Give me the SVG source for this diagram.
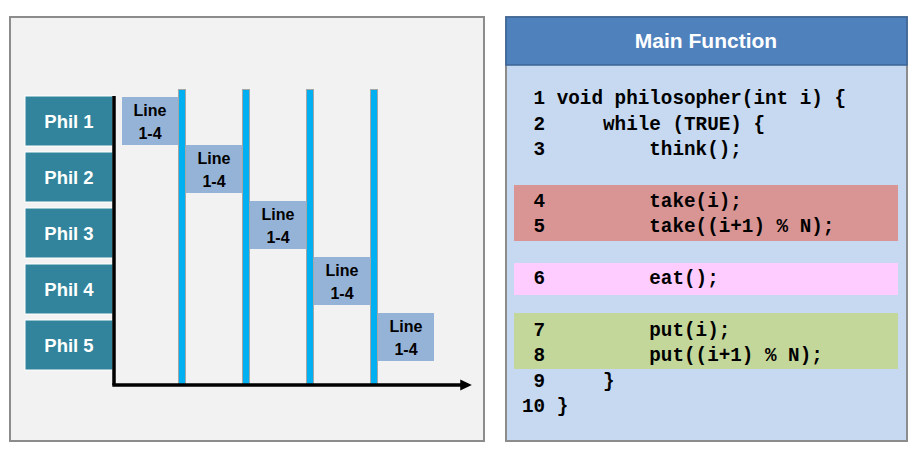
<svg xmlns="http://www.w3.org/2000/svg" width="915" height="460" viewBox="0 0 915 460">
<style>
.panel{fill:#f2f2f2;stroke:#8c8c8c;stroke-width:2}
.phil{fill:#31849b;stroke:#ffffff;stroke-width:1}
.philt{font-family:"Liberation Sans",Arial,sans-serif;font-weight:bold;font-size:18.5px;fill:#ffffff;text-anchor:middle}
.bar{fill:#00b0f0;stroke:#a6a6a6;stroke-width:1}
.lbox{fill:#95b3d7}
.lt{font-family:"Liberation Sans",Arial,sans-serif;font-weight:bold;font-size:16px;fill:#000000;text-anchor:middle}
.code{font-family:"Liberation Mono","Courier New",monospace;font-weight:bold;font-size:19.3px;fill:#000000;white-space:pre}
.title{font-family:"Liberation Sans",Arial,sans-serif;font-weight:bold;font-size:21px;fill:#ffffff;text-anchor:middle}
.axis{stroke:#000000;stroke-width:3.5;fill:none}
</style>
<defs>
<marker id="arr" markerWidth="4" markerHeight="4" refX="0.5" refY="2" orient="auto" markerUnits="strokeWidth">
<path d="M0,0.4 L3.3,2 L0,3.6 Z" fill="#000000"/>
</marker>
</defs>
<rect x="0" y="0" width="915" height="460" fill="#ffffff"/>
<g id="timeline-panel">
<rect class="panel" x="10" y="17" width="474" height="424"/>
</g>
<g id="phil1"><rect class="phil" x="25" y="96" width="88" height="50"/><text class="philt" x="69" y="128">Phil 1</text></g>
<g id="phil2"><rect class="phil" x="25" y="152" width="88" height="50"/><text class="philt" x="69" y="184">Phil 2</text></g>
<g id="phil3"><rect class="phil" x="25" y="208" width="88" height="50"/><text class="philt" x="69" y="240">Phil 3</text></g>
<g id="phil4"><rect class="phil" x="25" y="264" width="88" height="50"/><text class="philt" x="69" y="296">Phil 4</text></g>
<g id="phil5"><rect class="phil" x="25" y="320" width="88" height="50"/><text class="philt" x="69" y="352">Phil 5</text></g>
<g id="bars">
<rect class="bar" x="178.5" y="89.5" width="7" height="295"/>
<rect class="bar" x="242.5" y="89.5" width="7" height="295"/>
<rect class="bar" x="306.5" y="89.5" width="7" height="295"/>
<rect class="bar" x="370.5" y="89.5" width="7" height="295"/>
</g>
<g id="line1"><rect class="lbox" x="122" y="97" width="56" height="48"/><text class="lt" x="150" y="116">Line</text><text class="lt" x="150" y="139">1-4</text></g>
<g id="line2"><rect class="lbox" x="186" y="145" width="56" height="48"/><text class="lt" x="214" y="164">Line</text><text class="lt" x="214" y="187">1-4</text></g>
<g id="line3"><rect class="lbox" x="250" y="201" width="56" height="48"/><text class="lt" x="278" y="220">Line</text><text class="lt" x="278" y="243">1-4</text></g>
<g id="line4"><rect class="lbox" x="314" y="257" width="56" height="48"/><text class="lt" x="342" y="276">Line</text><text class="lt" x="342" y="299">1-4</text></g>
<g id="line5"><rect class="lbox" x="378" y="313" width="56" height="48"/><text class="lt" x="406" y="332">Line</text><text class="lt" x="406" y="355">1-4</text></g>
<g id="connectors">
<path class="axis" d="M114,96 L114,385"/>
<path class="axis" d="M112.3,385 L462,385" marker-end="url(#arr)"/>
</g>
<g id="main-function">
<rect x="506" y="17" width="401" height="424" fill="#c6d9f1" stroke="#8c8c8c" stroke-width="2"/>
<rect x="506" y="17" width="401" height="48" fill="#4f81bd" stroke="#3a6497" stroke-width="1.5"/>
<text class="title" x="706" y="48">Main Function</text>
<rect x="514" y="185" width="384" height="56" fill="#d99594"/>
<rect x="514" y="263" width="384" height="32" fill="#ffccff"/>
<rect x="514" y="313" width="384" height="56" fill="#c4d79b"/>
<text class="code" x="522" y="104" xml:space="preserve"> 1 void philosopher(int i) {</text>
<text class="code" x="522" y="130" xml:space="preserve"> 2     while (TRUE) {</text>
<text class="code" x="522" y="155" xml:space="preserve"> 3         think();</text>
<text class="code" x="522" y="207" xml:space="preserve"> 4         take(i);</text>
<text class="code" x="522" y="232" xml:space="preserve"> 5         take((i+1) % N);</text>
<text class="code" x="522" y="284" xml:space="preserve"> 6         eat();</text>
<text class="code" x="522" y="336" xml:space="preserve"> 7         put(i);</text>
<text class="code" x="522" y="361" xml:space="preserve"> 8         put((i+1) % N);</text>
<text class="code" x="522" y="387" xml:space="preserve"> 9     }</text>
<text class="code" x="522" y="412" xml:space="preserve">10 }</text>
</g>
</svg>
